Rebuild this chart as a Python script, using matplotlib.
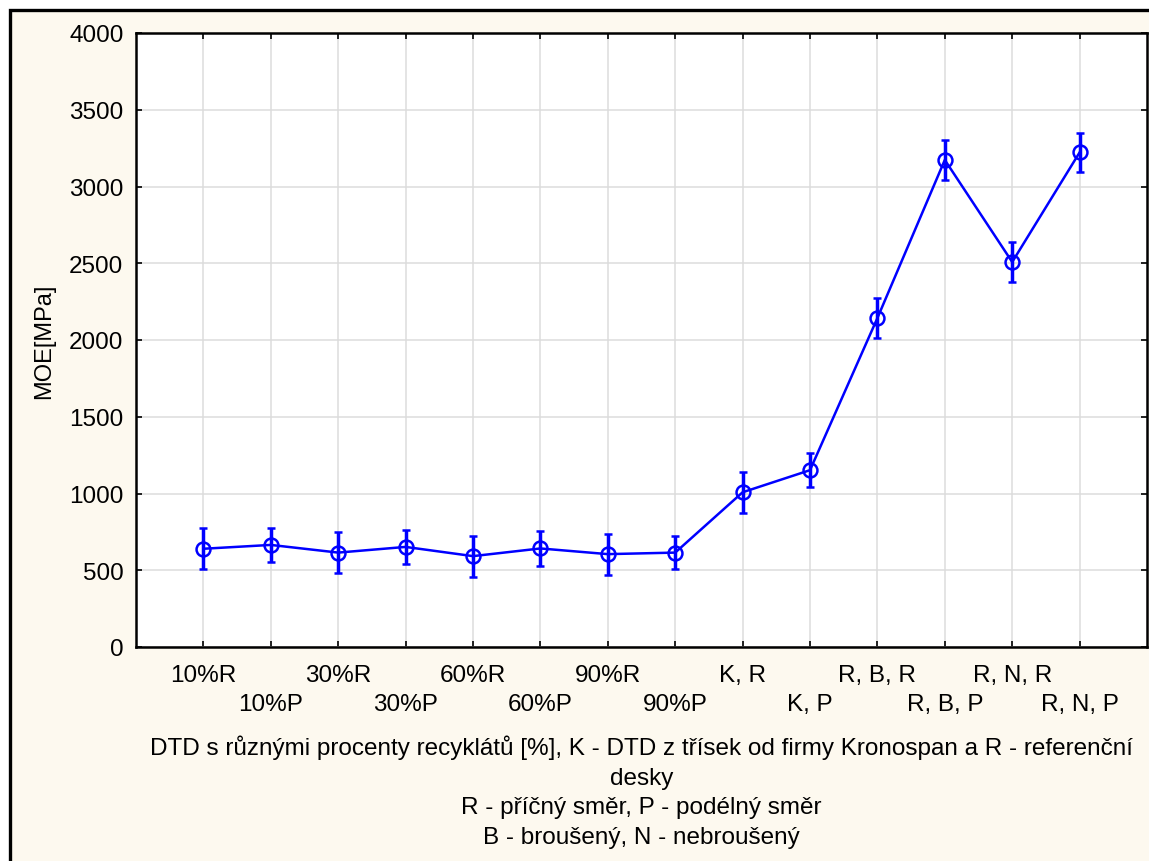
import matplotlib
matplotlib.use("Agg")
import matplotlib.pyplot as plt
from matplotlib import font_manager
from matplotlib.patches import Rectangle

# Sample groups, mean MOE and error half-widths
labels = ['10%R', '10%P', '30%R', '30%P', '60%R', '60%P', '90%R', '90%P',
          'K, R', 'K, P', 'R, B, R', 'R, B, P', 'R, N, R', 'R, N, P']
moe = [640, 665, 615, 652, 592, 642, 605, 615, 1008, 1152, 2143, 3173, 2508, 3222]
err = [133, 113, 133, 110, 133, 113, 133, 108, 134, 110, 128, 128, 128, 128]
yticks = [0, 500, 1000, 1500, 2000, 2500, 3000, 3500, 4000]
ylabel = 'MOE[MPa]'
xlabel = ('DTD s různými procenty recyklátů [%], K - DTD z třísek od firmy Kronospan a R - referenční\n'
          'desky\n'
          'R - příčný směr, P - podélný směr\n'
          'B - broušený, N - nebroušený')

names = {f.name for f in font_manager.fontManager.ttflist}
main_font = 'Liberation Sans' if 'Liberation Sans' in names else 'DejaVu Sans'
narrow_font = 'Liberation Sans Narrow' if 'Liberation Sans Narrow' in names else main_font
plt.rcParams['font.family'] = [main_font, 'DejaVu Sans']

W, H = 1149, 862
fig = plt.figure(figsize=(W / 100, H / 100), dpi=100, facecolor='white')
cream = '#fdf9ef'
fig.patches.append(Rectangle((10 / W, -0.05), 1.1, 1 - 11 / H + 0.05,
                             transform=fig.transFigure, facecolor=cream,
                             edgecolor='black', linewidth=2.4, zorder=-5))

ax = fig.add_axes([136 / W, 1 - 648 / H, (1147 - 136) / W, (648 - 34) / H])
ax.set_zorder(1)
ax.set_facecolor('white')

x = list(range(1, len(labels) + 1))
ax.errorbar(x, moe, yerr=err, color='#0000ff', linewidth=1.8, elinewidth=2.5,
            capsize=3, capthick=2.5, marker='o', markersize=10,
            markerfacecolor='none', markeredgecolor='#0000ff', markeredgewidth=1.8,
            zorder=3)

ax.set_xlim(0, 15)
ax.set_ylim(0, 4000)
ax.set_yticks(yticks)
# alternate categories on two label rows: upper row as major ticks, lower as minor
ax.set_xticks(x[0::2])
ax.set_xticklabels(labels[0::2])
ax.set_xticks(x[1::2], minor=True)
ax.set_xticklabels(labels[1::2], minor=True)
ax.grid(True, which='both', axis='x', color='#dcdcdc', linewidth=1.1, zorder=0)
ax.grid(True, which='major', axis='y', color='#dcdcdc', linewidth=1.1, zorder=0)
ax.set_axisbelow(True)
ax.tick_params(which='both', direction='in', length=4, width=1.2, top=True,
               right=True, labelsize=17.5, colors='black')
ax.tick_params(axis='x', which='major', pad=12)
ax.tick_params(axis='x', which='minor', pad=33)
ax.tick_params(axis='y', pad=9)
for s in ax.spines.values():
    s.set_linewidth(1.8)
    s.set_color('black')

ax.set_ylabel(ylabel, fontsize=17, labelpad=10)
ax.set_xlabel(xlabel, fontsize=17.5, family=[narrow_font, 'DejaVu Sans'],
              linespacing=1.44)
ax.xaxis.set_label_coords(0.5, -0.143)

fig.savefig('out.png', dpi=100, facecolor=fig.get_facecolor())
